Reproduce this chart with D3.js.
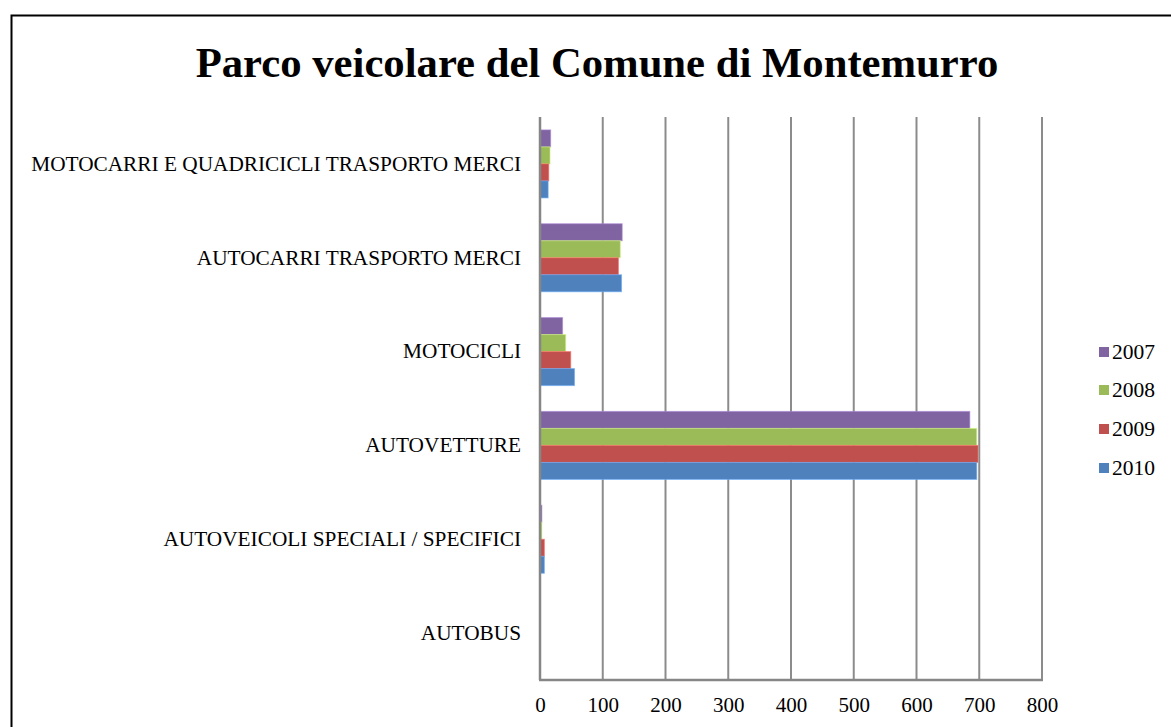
<!DOCTYPE html>
<html><head><meta charset="utf-8">
<script src="https://cdn.jsdelivr.net/npm/d3@7"></script>
<style>
html,body{margin:0;padding:0;background:#fff;}
svg{display:block;}
text{font-family:"Liberation Serif","Times New Roman",serif;fill:#000;}
</style></head>
<body>
<svg id="c" width="1171" height="727"></svg>
<script>
const categories = [
  "MOTOCARRI E QUADRICICLI TRASPORTO MERCI",
  "AUTOCARRI TRASPORTO MERCI",
  "MOTOCICLI",
  "AUTOVETTURE",
  "AUTOVEICOLI SPECIALI / SPECIFICI",
  "AUTOBUS"
];
const seriesNames = ["2007", "2008", "2009", "2010"];
const values2007 = [17, 131, 36, 685, 3, 0];
const values2008 = [16, 128, 41, 696, 3, 0];
const values2009 = [14, 125, 49, 698, 7, 0];
const values2010 = [13, 130, 55, 696, 7, 0];
const xTicks = [0, 100, 200, 300, 400, 500, 600, 700, 800];
const colors = ["#8064A2", "#9BBB59", "#C0504D", "#4F81BD"];
const titleText = "Parco veicolare del Comune di Montemurro";

const seriesValues = [values2007, values2008, values2009, values2010];
const svg = d3.select("#c");

// outer border
svg.append("rect").attr("x", 11.5).attr("y", 15.5).attr("width", 1200).attr("height", 800)
  .attr("fill", "none").attr("stroke", "#000").attr("stroke-width", 2);

svg.append("text").attr("x", 597).attr("y", 77).attr("text-anchor", "middle")
  .style("font-size", "42.7px").style("font-weight", "bold").text(titleText);

const x = d3.scaleLinear().domain([0, 800]).range([540, 1042]);
const y = d3.scaleBand().domain(categories).range([117, 680]).paddingInner(0.275).paddingOuter(0.1375);
const ySub = d3.scaleBand().domain(seriesNames).range([0, y.bandwidth()]).padding(0);

// gridlines
svg.append("g").selectAll("line").data(xTicks.slice(1)).join("line")
  .attr("x1", d => x(d)).attr("x2", d => x(d)).attr("y1", 117).attr("y2", 680)
  .attr("stroke", "#8c8c8c").attr("stroke-width", 2);

// bars
const g = svg.append("g");
seriesNames.forEach((s, si) => {
  g.append("g").selectAll("rect").data(categories.map((c, i) => ({c, v: seriesValues[si][i]})))
    .join("rect")
    .attr("x", x(0))
    .attr("y", d => y(d.c) + ySub(s))
    .attr("width", d => x(d.v) - x(0))
    .attr("height", ySub.bandwidth())
    .attr("fill", colors[si])
    .attr("stroke", d3.color(colors[si]).brighter(0.8))
    .attr("stroke-opacity", 0.6)
    .attr("stroke-width", d => d.v > 0 ? 1 : 0);
});

// axes lines
svg.append("line").attr("x1", x(0)).attr("x2", x(0)).attr("y1", 117).attr("y2", 680)
  .attr("stroke", "#868686").attr("stroke-width", 2.5);
svg.append("line").attr("x1", x(0) - 1).attr("x2", x(800) + 1).attr("y1", 680).attr("y2", 680)
  .attr("stroke", "#868686").attr("stroke-width", 2.5);

// x tick labels
const xAxis = d3.axisBottom(x).tickValues(xTicks).tickSize(0).tickPadding(0);
const ax = svg.append("g").attr("transform", "translate(0,712)").call(xAxis);
ax.select(".domain").remove();
ax.selectAll("text").attr("dy", 0).style("font-size", "21px")
  .style("font-family", '"Liberation Serif","Times New Roman",serif').attr("fill", "#000");

// y labels
const yAxis = d3.axisLeft(y).tickSize(0).tickPadding(0);
const ay = svg.append("g").attr("transform", "translate(521,0)").call(yAxis);
ay.select(".domain").remove();
ay.selectAll("text").style("font-size", "21.3px")
  .style("font-family", '"Liberation Serif","Times New Roman",serif').attr("fill", "#000");

// legend
const leg = svg.append("g");
const legY = [352, 390, 429, 468];
seriesNames.forEach((s, i) => {
  leg.append("rect").attr("x", 1099).attr("y", legY[i] - 5).attr("width", 10).attr("height", 10).attr("fill", colors[i]);
  leg.append("text").attr("x", 1112).attr("y", legY[i] + 7).style("font-size", "21.5px").text(s);
});
</script>
</body></html>
